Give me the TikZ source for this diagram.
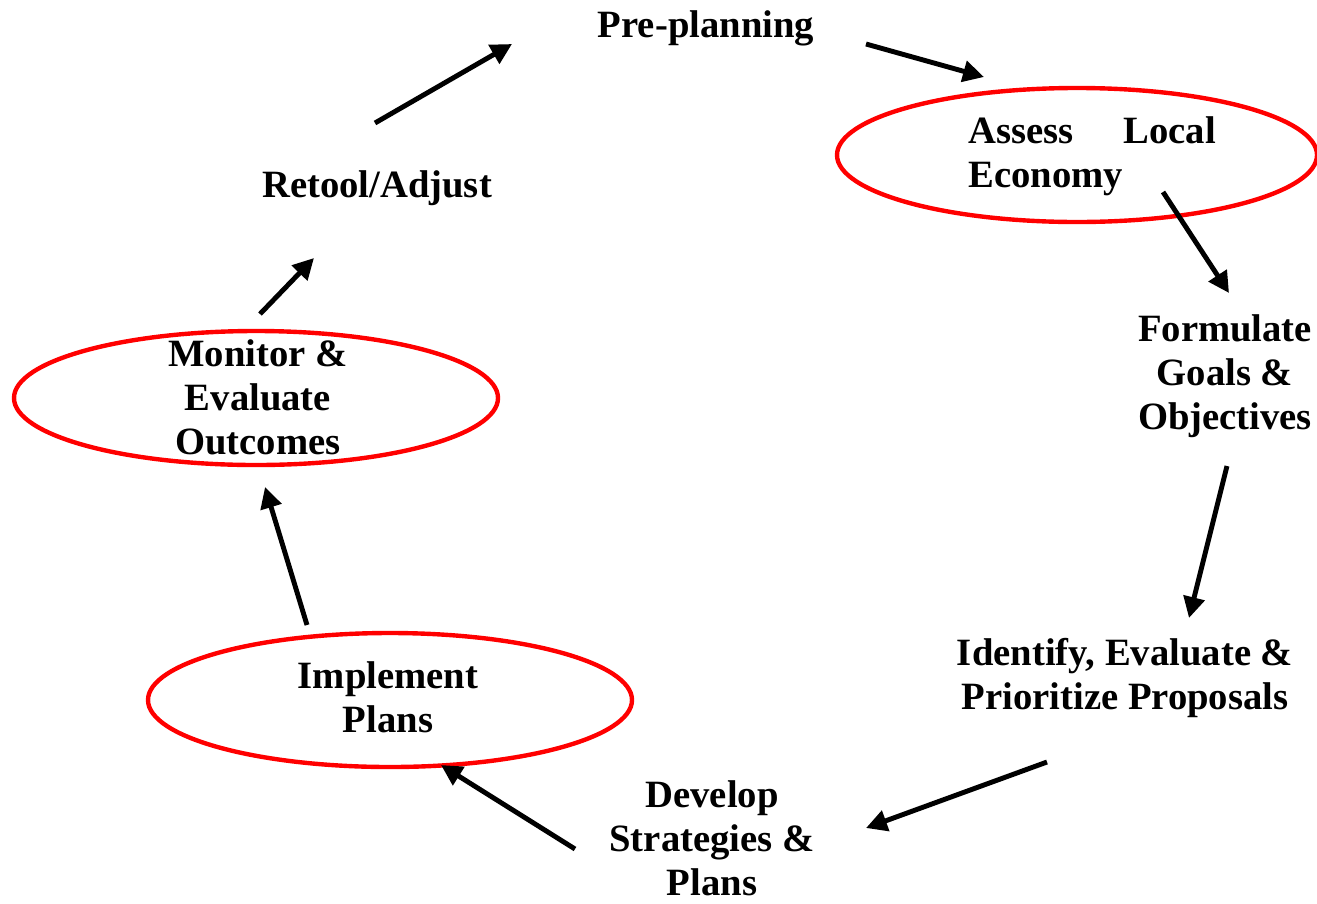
\documentclass[tikz,border=0pt]{standalone}
\usepackage{fontspec}
\setmainfont{Liberation Serif}
\usetikzlibrary{arrows.meta,shapes.geometric}
\tikzset{
  lbl/.style={font=\fontsize{22}{25}\selectfont\bfseries, align=center, inner sep=0pt},
  redring/.style={draw=red, line width=2.5pt},
  flow/.style={line width=2.8pt, -{Triangle[length=0.42cm,width=0.42cm]}}
}
\begin{document}
\begin{tikzpicture}[x=0.02cm,y=-0.02cm]
\useasboundingbox (0,0) rectangle (1317,903);
% ellipses
\draw[redring] (1077,155) ellipse [x radius=240, y radius=67];
\draw[redring] (256,398) ellipse [x radius=242, y radius=67];
\draw[redring] (390,700) ellipse [x radius=242, y radius=67];
% labels
\node[lbl] (pre) at (706,28) {Pre-planning};
\node[lbl, anchor=west, align=left] (assess) at (968,156) {Assess\hspace{1.0cm}Local\\Economy};
\node[lbl] (form) at (1225,376) {Formulate\\Goals \&\\Objectives};
\node[lbl] (ident) at (1125,678) {Identify, Evaluate \&\\Prioritize Proposals};
\node[lbl] (dev) at (712,838) {Develop\\Strategies \&\\Plans};
\node[lbl] (impl) at (388,697) {Implement\\Plans};
\node[lbl] (mon) at (258,397) {Monitor \&\\Evaluate\\Outcomes};
\node[lbl] (ret) at (377,188) {Retool/Adjust};
% arrow endpoints
\coordinate (a1s) at (375,123); \coordinate (a1e) at (512,44);
\coordinate (a2s) at (866,44);  \coordinate (a2e) at (984,77);
\coordinate (a3s) at (1163,192); \coordinate (a3e) at (1229,293);
\coordinate (a4s) at (1227,466); \coordinate (a4e) at (1189,618);
\coordinate (a5s) at (1047,762); \coordinate (a5e) at (866,828);
\coordinate (a6s) at (575,849); \coordinate (a6e) at (441,765);
\coordinate (a7s) at (307,625); \coordinate (a7e) at (265,487);
\coordinate (a8s) at (260,314); \coordinate (a8e) at (314,258);
\draw[flow] (a1s) -- (a1e);
\draw[flow] (a2s) -- (a2e);
\draw[flow] (a3s) -- (a3e);
\draw[flow] (a4s) -- (a4e);
\draw[flow] (a5s) -- (a5e);
\draw[flow] (a6s) -- (a6e);
\draw[flow] (a7s) -- (a7e);
\draw[flow] (a8s) -- (a8e);
\end{tikzpicture}
\end{document}
